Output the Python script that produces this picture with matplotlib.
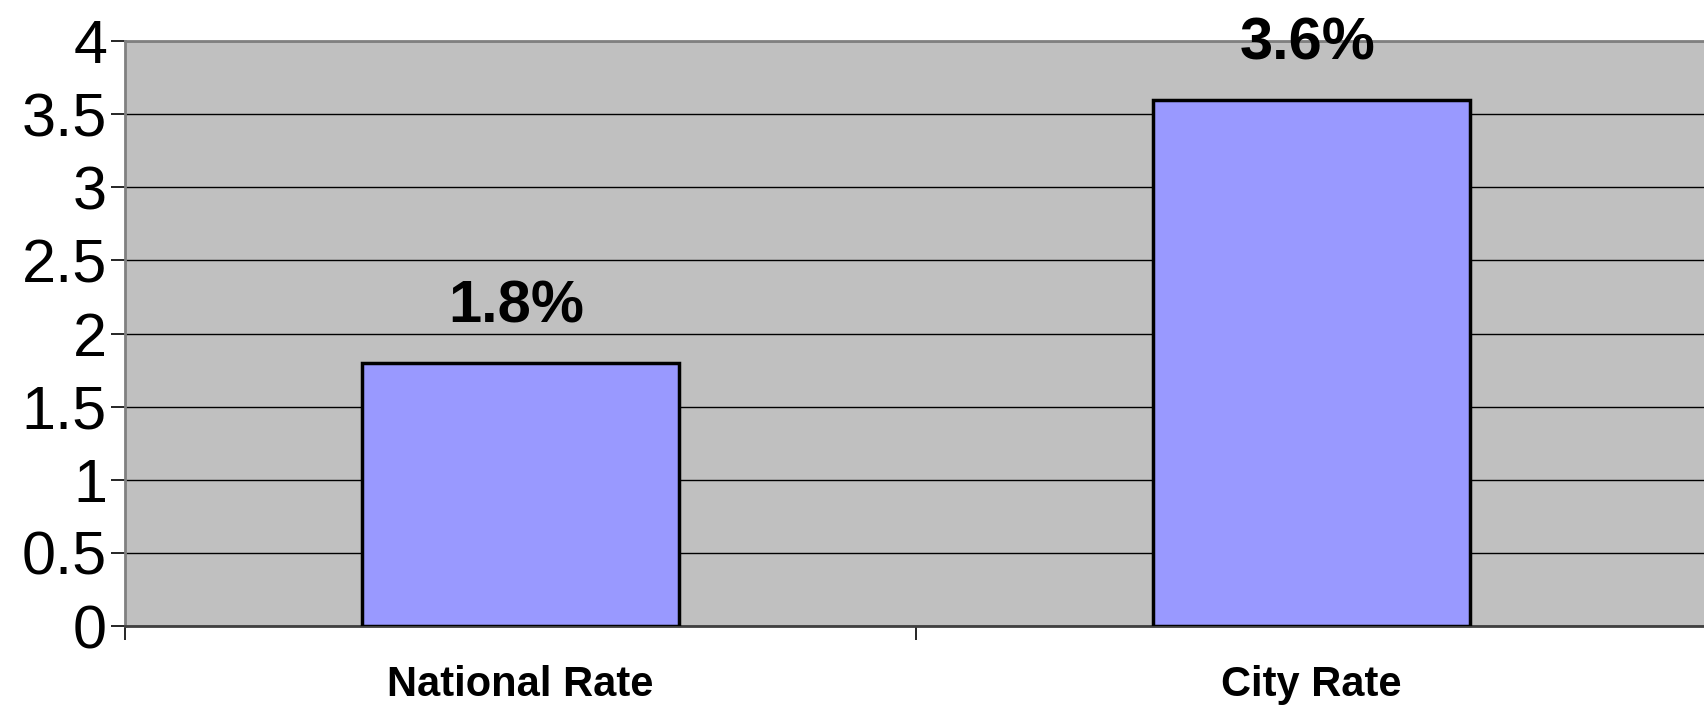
import matplotlib
matplotlib.use("Agg")
from matplotlib import pyplot as plt

# Data
categories = ["National Rate", "City Rate"]
rates = [1.8, 3.6]
rate_labels = ["1.8%", "3.6%"]
yticks = [0, 0.5, 1, 1.5, 2, 2.5, 3, 3.5, 4]

plt.rcParams["font.family"] = ["Liberation Sans", "DejaVu Sans"]

fig = plt.figure(figsize=(17.04, 7.05), dpi=100)
ax = fig.add_axes([0.0734, 0.112, 0.9284, 0.8298])
ax.set_facecolor("#C0C0C0")

x = list(range(len(categories)))
ax.bar(x, rates, width=0.4, color="#9999FF", edgecolor="black",
       linewidth=2.5, zorder=3)

for xi, v, lab in zip(x, rates, rate_labels):
    ax.annotate(lab, (xi, v), xytext=(-3, 29), textcoords="offset points",
                ha="center", va="baseline", fontsize=43, fontweight="bold")

ax.set_xlim(-0.5, len(categories) - 0.5)
ax.set_ylim(0, 4)
ax.set_yticks(yticks)
ax.set_yticklabels(["%g" % t for t in yticks], fontsize=44)
ax.yaxis.grid(True, color="black", linewidth=1.0, zorder=0)
ax.set_axisbelow(True)

ax.set_xticks(x)
ax.set_xticklabels(categories, fontsize=30, fontweight="bold")
ax.set_xticks([i - 0.5 for i in range(len(categories) + 1)], minor=True)
ax.tick_params(axis="x", which="major", length=0, pad=28)
ax.tick_params(axis="x", which="minor", length=10, width=1.2, color="black")
ax.tick_params(axis="y", length=10, width=1.2, color="black", pad=3)

for s in ["left", "top"]:
    ax.spines[s].set_color("#808080")
    ax.spines[s].set_linewidth(2)
ax.spines["bottom"].set_color("#404040")
ax.spines["bottom"].set_linewidth(2)
ax.spines["right"].set_visible(False)

fig.savefig("out.png", dpi=100)
